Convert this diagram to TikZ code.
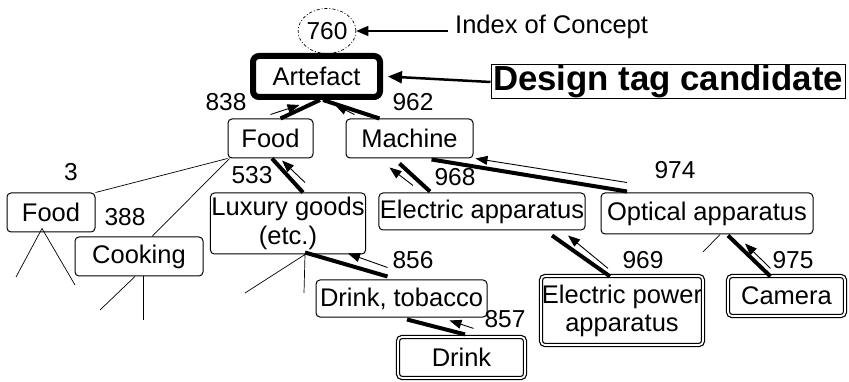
\documentclass[tikz,border=0pt]{standalone}
\usepackage{fontspec}
\setmainfont{Liberation Sans}
\usepackage{tikz}
\usetikzlibrary{arrows.meta}
\usetikzlibrary{shapes.geometric}
\usetikzlibrary{positioning}

\begin{document}
\begin{tikzpicture}[x=1pt, y=-1pt,
font=\fontsize{25.5}{29}\selectfont,
concept/.style = {draw, line width=1pt, rounded corners=4pt, inner xsep=1pt, inner ysep=0pt, minimum height=39pt},
tagged/.style = {concept, double, line width=1.2pt, double distance=1.8pt},
top/.style = {concept, line width=6pt, rounded corners=6pt},
num/.style = {font=\fontsize{24.5}{26}\selectfont, inner sep=0pt},
path/.style = {line width=4pt},
up/.style = {line width=0.9pt, -{Triangle[length=12pt,width=9pt]}},
sub/.style = {line width=0.7pt}]
\useasboundingbox (0,0) rectangle (849,382);

\node[draw, ellipse, dash pattern=on 3pt off 2pt on 1pt off 2pt, line width=0.7pt,
  minimum width=55pt, minimum height=45pt, inner sep=0pt, font=\fontsize{24.5}{26}\selectfont] (idx) at (327,31) {760};
\node[anchor=west, inner sep=0pt] (idxtext) at (455,27) {Index of Concept};
\node[top, minimum width=127pt, minimum height=41pt] (art) at (316.5,76.5) {Artefact};
\node[draw, line width=1pt, minimum width=354pt, minimum height=34pt, inner sep=0pt,
  font=\fontsize{34.8}{36}\selectfont\bfseries] (dtag) at (668,82) {Design tag candidate};

\node[concept, minimum width=85pt] (food) at (270.5,138.5) {Food};
\node[concept, minimum width=127pt] (mach) at (409.5,138.5) {Machine};
\node[concept, minimum width=88pt] (foodb) at (51,212.5) {Food};
\node[concept, minimum width=128pt] (cook) at (139,256.5) {Cooking};
\node[concept, minimum width=154pt, minimum height=61pt, align=center] (lux) at (288,223.5) {Luxury goods\\(etc.)};
\node[concept, minimum width=202pt, minimum height=37pt] (elec) at (482,211.5) {Electric apparatus};
\node[concept, minimum width=212pt, minimum height=41pt] (opt) at (707,213.5) {Optical apparatus};
\node[concept, minimum width=171pt, minimum height=37pt] (drtob) at (401.5,298.5) {Drink, tobacco};
\node[tagged, minimum width=162pt, minimum height=69pt, inner xsep=0pt, align=center,
  font=\fontsize{25.5}{28}\selectfont] (epow) at (622,310.5) {Electric power\\apparatus};
\node[tagged, minimum width=117pt, minimum height=40pt] (cam) at (786.5,296) {Camera};
\node[tagged, minimum width=127pt, minimum height=41pt] (drink) at (461.5,357.5) {Drink};

\node[num] (n838) at (226,102) {838};
\node[num] (n962) at (413,102) {962};
\node[num] (n3) at (71,172) {3};
\node[num] (n388) at (125,217) {388};
\node[num] (n533) at (252,175) {533};
\node[num] (n968) at (455,177) {968};
\node[num] (n974) at (675,170) {974};
\node[num] (n856) at (413,260) {856};
\node[num] (n969) at (643,260) {969};
\node[num] (n975) at (793,260) {975};
\node[num] (n857) at (505,319) {857};

\coordinate (fa) at (16,277);
\coordinate (fb) at (75,285);
\coordinate (ca) at (100,310);
\coordinate (cb) at (143,320);
\coordinate (la) at (245,293);
\coordinate (lb) at (304,293);
\coordinate (oa) at (703,252);

\draw[line width=1.2pt, -{Triangle[length=12pt,width=10pt]}] (idxtext.west |- idx.east) ++(-7pt,0) -- (idx.east);
\draw[line width=2.5pt, -{Triangle[length=14pt,width=12pt]}] (dtag.west) -- ([xshift=5pt]art.east);

\draw[path] ([xshift=10pt]food.north) -- ([xshift=3.5pt]art.south);
\draw[up] ([yshift=4pt]food.north) -- ([xshift=-17pt,yshift=-5pt]art.south);
\draw[path] ([xshift=-30pt]mach.north) -- ([xshift=6.5pt]art.south);
\draw[up] ([xshift=-55pt,yshift=4pt]mach.north) -- ([xshift=18.5pt,yshift=-5pt]art.south);

\draw[path] ([xshift=15pt]lux.north) -- ([xshift=1.5pt]food.south);
\draw[up] ([xshift=17pt,yshift=10pt]lux.north) -- ([xshift=11.5pt,yshift=-2pt]food.south);
\draw[sub] (food.south west) -- (foodb.north east);
\draw[sub] ([xshift=2pt]food.south west) -- ([xshift=13pt]cook.north);

\draw[sub] (fa) -- ([xshift=-9pt,yshift=4pt]foodb.south) -- (fb);
\draw[sub] (ca) -- ([xshift=-4pt]cook.south);
\draw[sub] ([xshift=4pt]cook.south) -- (cb);
\draw[sub] (la) -- ([xshift=17pt]lux.south) -- (lb);

\draw[path] ([xshift=-14pt,yshift=3pt]drtob.north) -- ([xshift=17pt,yshift=2pt]lux.south);
\draw[up] ([xshift=-14pt,yshift=12pt]drtob.north) -- ([xshift=60pt,yshift=1pt]lux.south);

\draw[path] ([xshift=-52pt,yshift=1pt]elec.north) -- ([xshift=-10pt,yshift=-5pt]mach.south);
\draw[up] ([xshift=-69pt,yshift=7pt]elec.north) -- ([xshift=-20pt,yshift=-9pt]mach.south);
\draw[path] ([xshift=-80pt,yshift=1pt]opt.north) -- ([xshift=22pt,yshift=-1pt]mach.south);
\draw[up] ([xshift=-80pt,yshift=10pt]opt.north) -- ([xshift=2pt]mach.south east);

\draw[path] ([xshift=-12pt,yshift=-1pt]epow.north) -- ([xshift=70pt,yshift=-5pt]elec.south);
\draw[up] ([xshift=-14pt,yshift=7pt]epow.north) -- ([xshift=86pt,yshift=-5pt]elec.south);
\draw[path] ([xshift=-16pt,yshift=-1pt]cam.north) -- ([xshift=21pt,yshift=-1pt]opt.south);
\draw[up] ([xshift=-16pt,yshift=7pt]cam.north) -- ([xshift=38pt,yshift=-9pt]opt.south);
\draw[sub] ([xshift=13pt]opt.south) -- (oa);

\draw[path] ([xshift=3.5pt,yshift=2pt]drink.north) -- ([xshift=5.5pt,yshift=-2pt]drtob.south);
\draw[up] ([xshift=12pt,yshift=8pt]drink.north) -- ([xshift=48pt,yshift=-3pt]drtob.south);
\end{tikzpicture}
\end{document}
